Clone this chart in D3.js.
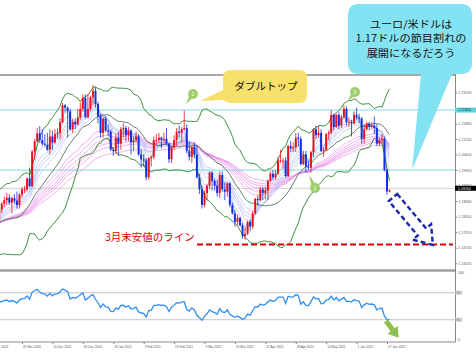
<!DOCTYPE html>
<html><head><meta charset="utf-8">
<script src="https://cdn.jsdelivr.net/npm/d3@7/dist/d3.min.js"></script>
<style>body{margin:0;background:#fff;}svg{display:block;}</style>
</head><body>
<svg id="c" width="476" height="354"></svg>
<script>
// ---- data (EUR/USD daily) ----
const warmupCloses = [1.1795,1.1835,1.1830,1.1820,1.1905,1.1935,1.1915,1.1855,1.1850,1.1840,
1.1820,1.1780,1.1800,1.1815,1.1845,1.1865,1.1845,1.1815,1.1850,1.1840,
1.1770,1.1705,1.1660,1.1670,1.1630,1.1665,1.1745,1.1720,1.1750,1.1715,
1.1780,1.1735,1.1760,1.1765,1.1825,1.1815,1.1745,1.1745,1.1705,1.1715,
1.1770,1.1820,1.1860,1.1815,1.1860,1.1810,1.1795,1.1745,1.1675,1.1645,
1.1645,1.1715,1.1725,1.1830,1.1875,1.1815,1.1810,1.1775];

const opens = [1.1790,1.1830,1.1855,1.1870,1.1880,1.1860,1.1878,1.1868,1.1850,1.1893,
1.1915,1.1915,1.1960,1.1928,1.2072,1.2115,1.2148,1.2120,1.2105,1.2100,
1.2080,1.2135,1.2110,1.2145,1.2150,1.2195,1.2265,1.2255,1.2240,1.2165,
1.2195,1.2185,1.2215,1.2250,1.2295,1.2215,1.2250,1.2298,1.2325,1.2270,
1.2220,1.2150,1.2210,1.2160,1.2155,1.2080,1.2075,1.2130,1.2105,1.2165,
1.2170,1.2140,1.2160,1.2110,1.2120,1.2135,1.2060,1.2040,1.2035,1.1965,
1.2045,1.2050,1.2120,1.2120,1.2130,1.2120,1.2125,1.2105,1.2040,1.2090,
1.2120,1.2155,1.2150,1.2165,1.2170,1.2075,1.2050,1.2090,1.2060,1.1965,
1.1915,1.1850,1.1900,1.1930,1.1985,1.1950,1.1930,1.1900,1.1975,1.1915,
1.1905,1.1940,1.1850,1.1815,1.1780,1.1795,1.1765,1.1720,1.1730,1.1780,
1.1760,1.1815,1.1875,1.1870,1.1915,1.1900,1.1910,1.1950,1.1980,1.1965,
1.1980,1.2035,1.2035,1.2035,1.1970,1.2095,1.2085,1.2090,1.2130,1.2125,
1.2020,1.2060,1.2010,1.2005,1.2070,1.2165,1.2140,1.2150,1.2075,1.2080,
1.2145,1.2150,1.2225,1.2175,1.2225,1.2180,1.2215,1.2250,1.2195,1.2195,
1.2190,1.2225,1.2215,1.2210,1.2125,1.2165,1.2190,1.2175,1.2180,1.2170,
1.2105,1.2120,1.2125,1.1995,1.1906];
const highs = [1.1840,1.1862,1.1885,1.1900,1.1895,1.1885,1.1895,1.1905,1.1900,1.1925,
1.1930,1.1965,1.2005,1.2078,1.2125,1.2170,1.2178,1.2165,1.2145,1.2150,
1.2165,1.2160,1.2165,1.2170,1.2210,1.2275,1.2270,1.2260,1.2250,1.2210,
1.2210,1.2250,1.2275,1.2310,1.2310,1.2310,1.2305,1.2349,1.2340,1.2280,
1.2230,1.2215,1.2220,1.2185,1.2165,1.2090,1.2145,1.2155,1.2175,1.2190,
1.2180,1.2175,1.2165,1.2135,1.2155,1.2145,1.2080,1.2060,1.2045,1.2050,
1.2055,1.2135,1.2145,1.2150,1.2135,1.2150,1.2170,1.2110,1.2095,1.2140,
1.2170,1.2180,1.2175,1.2243,1.2185,1.2115,1.2095,1.2110,1.2095,1.1980,
1.1930,1.1910,1.1935,1.1990,1.1990,1.1960,1.1955,1.1990,1.1990,1.1945,
1.1945,1.1945,1.1860,1.1830,1.1810,1.1800,1.1775,1.1760,1.1785,1.1790,
1.1825,1.1880,1.1890,1.1925,1.1925,1.1925,1.1955,1.1990,1.1995,1.1995,
1.2050,1.2080,1.2045,1.2050,1.2100,1.2115,1.2110,1.2150,1.2150,1.2135,
1.2075,1.2075,1.2035,1.2075,1.2170,1.2180,1.2180,1.2165,1.2090,1.2150,
1.2160,1.2245,1.2230,1.2230,1.2235,1.2225,1.2266,1.2260,1.2215,1.2205,
1.2240,1.2255,1.2230,1.2215,1.2185,1.2195,1.2195,1.2195,1.2218,1.2185,
1.2130,1.2145,1.2135,1.2000,1.1915];
const lows = [1.1780,1.1815,1.1840,1.1850,1.1850,1.1815,1.1855,1.1835,1.1835,1.1880,
1.1900,1.1905,1.1925,1.1925,1.2040,1.2110,1.2110,1.2095,1.2095,1.2075,
1.2060,1.2080,1.2105,1.2125,1.2125,1.2190,1.2235,1.2130,1.2160,1.2150,
1.2165,1.2180,1.2205,1.2240,1.2210,1.2210,1.2240,1.2265,1.2255,1.2190,
1.2130,1.2130,1.2155,1.2135,1.2075,1.2055,1.2065,1.2055,1.2080,1.2130,
1.2115,1.2115,1.2060,1.2075,1.2110,1.2055,1.2005,1.2010,1.1952,1.1955,
1.2010,1.2040,1.2100,1.2110,1.2085,1.2110,1.2100,1.2025,1.2025,1.2080,
1.2095,1.2130,1.2110,1.2160,1.2065,1.2035,1.2025,1.2045,1.1960,1.1895,
1.1835,1.1840,1.1870,1.1915,1.1910,1.1910,1.1885,1.1880,1.1905,1.1870,
1.1885,1.1840,1.1810,1.1760,1.1765,1.1760,1.1710,1.1704,1.1725,1.1740,
1.1750,1.1810,1.1845,1.1865,1.1870,1.1875,1.1870,1.1945,1.1955,1.1955,
1.1975,1.2025,1.2000,1.1965,1.1965,1.2070,1.2070,1.2070,1.2095,1.2015,
1.2015,1.1985,1.1995,1.1985,1.2050,1.2125,1.2130,1.2070,1.2050,1.2075,
1.2120,1.2145,1.2160,1.2170,1.2165,1.2170,1.2210,1.2180,1.2175,1.2135,
1.2185,1.2205,1.2190,1.2105,1.2105,1.2160,1.2160,1.2165,1.2145,1.2095,
1.2095,1.2105,1.1990,1.1892,1.1902];
const closes = [1.1830,1.1855,1.1870,1.1880,1.1860,1.1878,1.1868,1.1850,1.1893,1.1915,
1.1915,1.1960,1.1928,1.2072,1.2115,1.2148,1.2120,1.2105,1.2100,1.2080,
1.2135,1.2110,1.2145,1.2150,1.2195,1.2265,1.2255,1.2240,1.2165,1.2195,
1.2185,1.2215,1.2250,1.2295,1.2215,1.2250,1.2298,1.2325,1.2270,1.2220,
1.2150,1.2210,1.2160,1.2155,1.2080,1.2075,1.2130,1.2105,1.2165,1.2170,
1.2140,1.2160,1.2110,1.2120,1.2135,1.2060,1.2040,1.2035,1.1965,1.2045,
1.2050,1.2120,1.2120,1.2130,1.2120,1.2125,1.2105,1.2040,1.2090,1.2120,
1.2155,1.2150,1.2165,1.2170,1.2075,1.2050,1.2090,1.2060,1.1965,1.1915,
1.1850,1.1900,1.1930,1.1985,1.1950,1.1930,1.1900,1.1975,1.1915,1.1905,
1.1940,1.1850,1.1815,1.1780,1.1795,1.1765,1.1720,1.1730,1.1780,1.1760,
1.1815,1.1875,1.1870,1.1915,1.1900,1.1910,1.1950,1.1980,1.1965,1.1980,
1.2035,1.2035,1.2035,1.1970,1.2095,1.2085,1.2090,1.2130,1.2125,1.2020,
1.2060,1.2010,1.2005,1.2070,1.2165,1.2140,1.2150,1.2075,1.2080,1.2145,
1.2150,1.2225,1.2175,1.2225,1.2180,1.2215,1.2250,1.2195,1.2195,1.2190,
1.2225,1.2215,1.2210,1.2125,1.2165,1.2190,1.2175,1.2180,1.2170,1.2105,
1.2120,1.2125,1.1995,1.1906,1.1911];

const priceTicks = [1.23190,1.21890,1.21250,1.20600,1.19950,1.19310,1.18660,1.18010,1.17370,1.16720,1.16070];
const dateTickIndex = [-3,9,21,33,45,57,69,81,93,105,117,129,141,153];
const dateTickLabels = ["2020","25 Nov 2020","11 Dec 2020","30 Dec 2020","18 Jan 2021","3 Feb 2021","19 Feb 2021","9 Mar 2021","25 Mar 2021","12 Apr 2021","28 Apr 2021","14 May 2021","1 Jun 2021","17 Jun 2021"];
const hLines = [1.22450, 1.19950];
const bidPrice = 1.19110;
const supportPrice = 1.17040;
const gmmaShort = [3,5,8,10,12,15];
const gmmaLong = [30,35,40,45,50,60];
const rsiLevels = [70,30];
const noteLines = ["ユーロ/米ドルは","1.17ドルの節目割れの","展開になるだろう"];

// ---- indicators computed from the closes ----
const all = warmupCloses.concat(closes);
const W = warmupCloses.length;
const n = closes.length;
function ema(p){const k=2/(p+1);let e=all[0];return all.map((v,i)=>i===0?e:(e=v*k+e*(1-k))).slice(W);}
const bbMid=[],bbUp=[],bbLo=[];
for(let i=W;i<all.length;i++){const s=all.slice(i-19,i+1);const m=d3.mean(s);const sd=Math.sqrt(d3.mean(s,v=>(v-m)*(v-m)));bbMid.push(m);bbUp.push(m+2*sd);bbLo.push(m-2*sd);}
const rsi=[];{let ag=0,al=0;for(let i=1;i<=14;i++){const d=all[i]-all[i-1];if(d>0)ag+=d;else al-=d;}ag/=14;al/=14;
for(let i=15;i<all.length;i++){const d=all[i]-all[i-1];ag=(ag*13+Math.max(d,0))/14;al=(al*13+Math.max(-d,0))/14;if(i>=W)rsi.push(100-100/(1+ag/al));}}

// ---- scales ----
const svg=d3.select("#c");
const x=d3.scaleLinear().domain([9,153]).range([22,387]);
const y=d3.scaleLinear().domain([1.16070,1.23190]).range([263.3,92.3]);
const yr=d3.scaleLinear().domain([0,100]).range([340,272.5]);
const axisX=455.5;

const defs=svg.append("defs");
defs.append("clipPath").attr("id","cm").append("rect").attr("x",0).attr("y",75).attr("width",axisX).attr("height",194);
defs.append("clipPath").attr("id","cr").append("rect").attr("x",0).attr("y",271).attr("width",axisX).attr("height",70);

const gm=svg.append("g").attr("clip-path","url(#cm)");
gm.selectAll("line.h").data(hLines).join("line").attr("x1",0).attr("x2",axisX).attr("y1",d=>y(d)).attr("y2",d=>y(d)).attr("stroke","#80dce6").attr("stroke-width",1);
gm.append("line").attr("x1",0).attr("x2",axisX).attr("y1",y(bidPrice)-2).attr("y2",y(bidPrice)-2).attr("stroke","#cfcfcf").attr("stroke-width",1);

const line=d3.line().x((d,j)=>x(j)).y(d=>y(d));
gmmaLong.forEach(p=>gm.append("path").attr("d",line(ema(p))).attr("fill","none").attr("stroke","#e67ae6").attr("stroke-opacity",0.75).attr("stroke-width",0.8));
gmmaShort.forEach(p=>gm.append("path").attr("d",line(ema(p))).attr("fill","none").attr("stroke","#a8bcf4").attr("stroke-opacity",0.8).attr("stroke-width",0.8));
gm.append("path").attr("d",line(bbMid)).attr("fill","none").attr("stroke","#55705a").attr("stroke-width",0.9);
[bbUp,bbLo].forEach(b=>gm.append("path").attr("d",line(b)).attr("fill","none").attr("stroke","#3f8f3f").attr("stroke-width",1));

const idx=d3.range(n);
const bull="#e8141c",bear="#1530e0";
const col=j=>closes[j]>=opens[j]?bull:bear;
gm.selectAll("line.w").data(idx).join("line").attr("x1",j=>x(j)).attr("x2",j=>x(j)).attr("y1",j=>y(highs[j])).attr("y2",j=>y(lows[j])).attr("stroke",col).attr("stroke-width",0.8);
gm.selectAll("rect.b").data(idx).join("rect").attr("x",j=>x(j)-1).attr("width",2)
 .attr("y",j=>y(Math.max(opens[j],closes[j]))).attr("height",j=>Math.max(0.8,Math.abs(y(opens[j])-y(closes[j])))).attr("fill",col);

svg.append("line").attr("x1",197).attr("x2",453).attr("y1",y(supportPrice)+4.5).attr("y2",y(supportPrice)+4.5).attr("stroke","#dd0000").attr("stroke-width",2.2).attr("stroke-dasharray","6,3");
svg.append("text").attr("x",105).attr("y",241).attr("font-family","Noto Sans CJK JP").attr("font-size",10.5).attr("fill","#dd0000").text("3月末安値のライン");

svg.append("line").attr("x1",0).attr("x2",axisX).attr("y1",75).attr("y2",75).attr("stroke","#a8a8a8").attr("stroke-width",2);
svg.append("line").attr("x1",0).attr("x2",axisX).attr("y1",270.5).attr("y2",270.5).attr("stroke","#a0a0a0").attr("stroke-width",2.4);
svg.append("line").attr("x1",axisX).attr("x2",axisX).attr("y1",74).attr("y2",342).attr("stroke","#888").attr("stroke-width",1);
svg.append("line").attr("x1",0).attr("x2",axisX).attr("y1",342).attr("y2",342).attr("stroke","#888").attr("stroke-width",1);

const ya=svg.append("g").attr("transform",`translate(${axisX},0)`).call(d3.axisRight(y).tickValues(priceTicks).tickFormat(d3.format(".5f")).tickSize(2));
ya.select(".domain").remove();
ya.selectAll("text").attr("font-family","Liberation Sans").attr("font-size",3.6).attr("fill","#555").attr("x",3);
ya.selectAll("line").attr("stroke","#888");
svg.append("rect").attr("x",455).attr("y",y(hLines[0])-2.5).attr("width",21).attr("height",5).attr("fill","#5fd3dc");
svg.append("text").attr("x",458).attr("y",y(hLines[0])+1.3).attr("font-family","Liberation Sans").attr("font-size",3.6).attr("fill","#134").text(d3.format(".5f")(hLines[0]));
svg.append("rect").attr("x",455).attr("y",y(bidPrice)-4.5).attr("width",21).attr("height",5).attr("fill","#000");
svg.append("text").attr("x",458).attr("y",y(bidPrice)-0.7).attr("font-family","Liberation Sans").attr("font-size",3.6).attr("fill","#fff").text(d3.format(".5f")(bidPrice));

const gr=svg.append("g").attr("clip-path","url(#cr)");
gr.selectAll("line.l").data(rsiLevels).join("line").attr("x1",0).attr("x2",axisX).attr("y1",d=>yr(d)).attr("y2",d=>yr(d)).attr("stroke","#c4c4c4").attr("stroke-width",1);
gr.append("path").attr("d",d3.line().x((d,j)=>x(j)).y(d=>yr(d))(rsi)).attr("fill","none").attr("stroke","#2f8ff0").attr("stroke-width",1.3);
svg.selectAll("rect.lv").data(rsiLevels).join("rect").attr("x",455.5).attr("y",d=>yr(d)-2).attr("width",7).attr("height",4).attr("fill","#d4d4d4");
svg.selectAll("text.lv").data(rsiLevels).join("text").attr("x",456.5).attr("y",d=>yr(d)+1.1).attr("font-family","Liberation Sans").attr("font-size",3).attr("fill","#666").text(d=>d);
svg.append("text").attr("x",458).attr("y",274.3).attr("font-family","Liberation Sans").attr("font-size",3.6).attr("fill","#555").text("100");
svg.append("text").attr("x",458).attr("y",341.3).attr("font-family","Liberation Sans").attr("font-size",3.6).attr("fill","#555").text("0");

const xa=svg.append("g").attr("transform","translate(0,342)").call(d3.axisBottom(x).tickValues(dateTickIndex).tickFormat((d,i)=>dateTickLabels[i]).tickSize(2));
xa.select(".domain").remove();
xa.selectAll("line").attr("stroke","#888");
xa.selectAll("text").attr("text-anchor","start").attr("font-family","Liberation Sans").attr("font-size",3.2).attr("fill","#555").attr("dy",0).attr("y",6).attr("dx",0.5);
xa.selectAll(".tick").filter(d=>d<0).select("text").attr("dx",9.2);

svg.append("path").attr("d","M0,-2.6H11V-6.5L21,0L11,6.5V2.6H0Z").attr("transform","translate(386,321) rotate(53)").attr("fill","#8cc152");

svg.append("path").attr("d","M0,-5.5H45V-12L62,0L45,12V5.5H0Z").attr("transform","translate(393,197.5) rotate(50)")
 .attr("fill","none").attr("stroke","#1c2aa8").attr("stroke-width",2.4).attr("stroke-dasharray","5,3");

svg.append("path").attr("d","M231,70H299Q307,70 307,78V95Q307,103 299,103H231Q226,103 224,100L200,101L223,90V78Q223,70 231,70Z").attr("fill","#f8e06c");
svg.append("text").attr("x",266).attr("y",90).attr("text-anchor","middle").attr("font-family","Noto Sans CJK JP").attr("font-size",10.5).attr("fill","#111").text("ダブルトップ");

svg.append("path").attr("d","M359,4H461Q472,4 472,15V63Q472,74 461,74H452L412,170L421,74H359Q348,74 348,63V15Q348,4 359,4Z").attr("fill","#84e3f3");
noteLines.forEach((t,i)=>svg.append("text").attr("transform",`translate(411,${27.5+i*14.5}) scale(1.13,1)`).attr("text-anchor","middle")
  .attr("font-family","Noto Sans CJK JP").attr("font-size",9.9).attr("fill","#111").text(t));

const marks=[{cx:193,cy:94,tx:186,ty:104,t:"1"},{cx:315,cy:188,tx:309,ty:175,t:"2"},{cx:355,cy:92,tx:348,ty:101,t:"3"}];
marks.forEach(m=>{
  const a=Math.atan2(m.ty-m.cy,m.tx-m.cx),p=a+Math.PI/2;
  svg.append("path").attr("d",`M${m.cx+3*Math.cos(p)},${m.cy+3*Math.sin(p)}L${m.tx},${m.ty}L${m.cx-3*Math.cos(p)},${m.cy-3*Math.sin(p)}Z`).attr("fill","#9fcf6d");
  svg.append("circle").attr("cx",m.cx).attr("cy",m.cy).attr("r",5).attr("fill","#9fcf6d");
  svg.append("text").attr("x",m.cx).attr("y",m.cy+1.8).attr("text-anchor","middle").attr("font-family","Liberation Sans").attr("font-size",5).attr("fill","#fff").text(m.t);
});
</script>
</body></html>
